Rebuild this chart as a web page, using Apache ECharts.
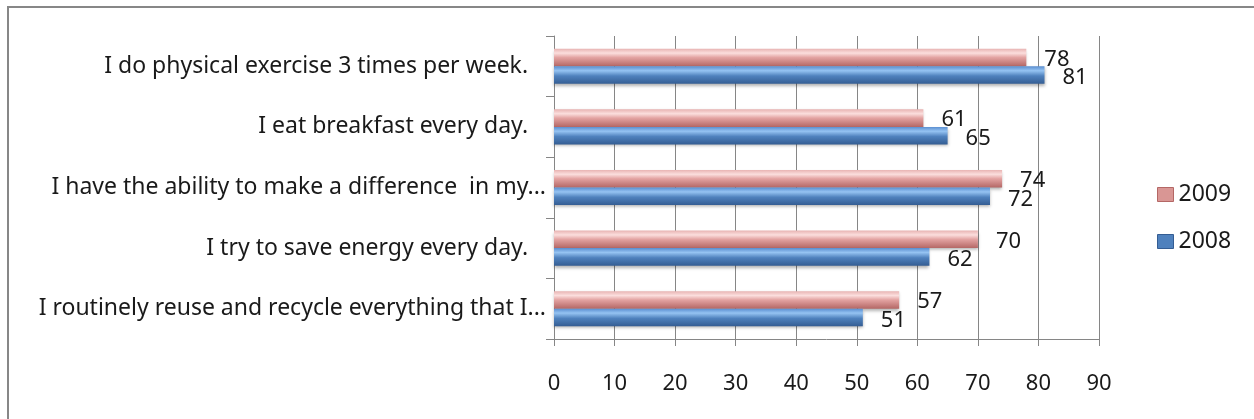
<!DOCTYPE html>
<html lang="en">
<head>
    <meta charset="UTF-8">
    <script src="https://cdn.jsdelivr.net/npm/echarts@6/dist/echarts.min.js"></script>
    <title>Survey_Bars</title>
    <style>
        body { margin: 0; background: #fff; overflow: hidden; }
        #frame { position: absolute; left: 7px; top: 6px; width: 1300px; height: 500px; border: 2px solid #878787; }
        #bars { position: absolute; left: 0; top: 0; width: 1254px; height: 419px; }
    </style>
</head>
<body>
    <div id="frame"></div>
    <div id="bars"></div>
    <script type="text/javascript">
        // survey statements, top to bottom
        var categories = [
            'I do physical exercise 3 times per week.   ',
            'I eat breakfast every day.   ',
            'I have the ability to make a difference  in my...',
            'I try to save energy every day.   ',
            'I routinely reuse and recycle everything that I...'
        ];
        var values2009 = [78, 61, 74, 70, 57];
        var values2008 = [81, 65, 72, 62, 51];
        var xTicks = [0, 10, 20, 30, 40, 50, 60, 70, 80, 90];

        var font = 'Noto Sans';
        var pink = {
            type: 'linear', x: 0, y: 0, x2: 0, y2: 1,
            colorStops: [
                {offset: 0, color: '#e8b3b2'},
                {offset: 0.25, color: '#fbdedd'},
                {offset: 0.5, color: '#e3a3a2'},
                {offset: 1, color: '#b46765'}
            ]
        };
        var blue = {
            type: 'linear', x: 0, y: 0, x2: 0, y2: 1,
            colorStops: [
                {offset: 0, color: '#5a8ed0'},
                {offset: 0.25, color: '#95c3f2'},
                {offset: 0.55, color: '#4f81bd'},
                {offset: 1, color: '#345d93'}
            ]
        };

        var chart = echarts.init(document.getElementById('bars'));
        var option = {
            backgroundColor: 'transparent',
            animation: false,
            textStyle: {fontFamily: font},
            grid: {left: 554, right: 155, top: 36, bottom: 80},
            legend: {
                orient: 'vertical',
                left: 1152,
                top: 178,
                itemWidth: 16,
                itemHeight: 14,
                itemGap: 24,
                textStyle: {fontFamily: font, fontSize: 23, color: '#1a1a1a'},
                data: [
                    {name: '2009', icon: 'rect', itemStyle: {color: '#d99694', borderColor: '#b46765', borderWidth: 1}},
                    {name: '2008', icon: 'rect', itemStyle: {color: '#4f81bd', borderColor: '#345d93', borderWidth: 1}}
                ]
            },
            xAxis: {
                type: 'value',
                min: 0,
                max: 90,
                interval: 10,
                axisLine: {show: true, lineStyle: {color: '#868686'}},
                axisTick: {show: true, length: 7, lineStyle: {color: '#868686'}},
                axisLabel: {
                    margin: 34,
                    fontSize: 22,
                    color: '#1a1a1a',
                    formatter: function (v) { return xTicks.indexOf(v) >= 0 ? String(v) : ''; }
                },
                splitLine: {show: true, lineStyle: {color: '#868686'}}
            },
            yAxis: {
                type: 'category',
                inverse: true,
                data: categories,
                axisLine: {show: true, lineStyle: {color: '#868686'}},
                axisTick: {show: true, length: 8, inside: false, lineStyle: {color: '#868686'}},
                axisLabel: {margin: 8, fontSize: 23, color: '#1a1a1a'}
            },
            series: [
                {
                    name: '2009',
                    type: 'bar',
                    data: values2009,
                    barGap: '0%',
                    barCategoryGap: '42%',
                    itemStyle: {
                        color: pink,
                        shadowBlur: 3,
                        shadowOffsetY: 2,
                        shadowColor: 'rgba(0,0,0,0.3)'
                    },
                    label: {show: true, position: 'right', distance: 18, offset: [0, 2], fontSize: 22, color: '#1a1a1a'}
                },
                {
                    name: '2008',
                    type: 'bar',
                    data: values2008,
                    itemStyle: {
                        color: blue,
                        shadowBlur: 3,
                        shadowOffsetY: 2,
                        shadowColor: 'rgba(0,0,0,0.3)'
                    },
                    label: {show: true, position: 'right', distance: 18, offset: [0, 3], fontSize: 22, color: '#1a1a1a'}
                }
            ]
        };
        chart.setOption(option);
    </script>
</body>
</html>
